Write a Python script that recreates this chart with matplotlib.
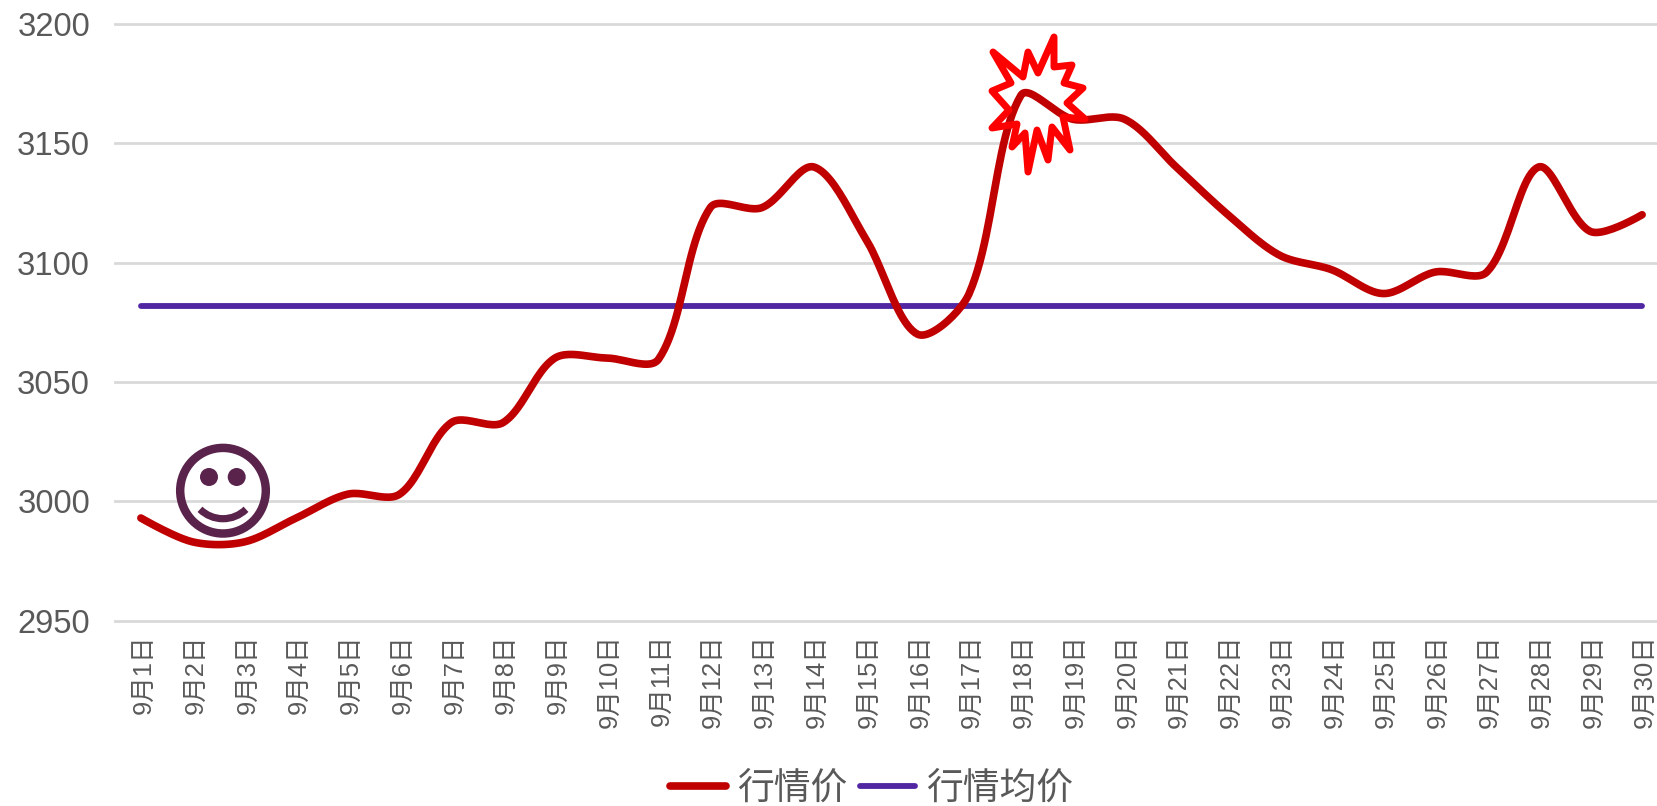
import numpy as np
import matplotlib
matplotlib.use("Agg")
import matplotlib.pyplot as plt
from matplotlib.patches import Circle, Arc, Polygon
from matplotlib.transforms import ScaledTranslation

plt.rcParams['font.family'] = ['Liberation Sans', 'Noto Sans CJK SC', 'DejaVu Sans']

days = [f"9月{d}日" for d in range(1, 31)]
price = [2993, 2983, 2983, 2993, 3003, 3003, 3033, 3033, 3060, 3060,
         3059.5, 3123, 3123, 3140, 3110, 3070, 3087, 3170, 3160, 3160,
         3140, 3120, 3103, 3097, 3087, 3096, 3096, 3140, 3113, 3120]
mean_price = [3081.8] * 30
yticks = [2950, 3000, 3050, 3100, 3150, 3200]
names = ["行情价", "行情均价"]

W, H = 1658, 806
GREY = "#595959"
LEFT, RIGHT, TOP, BOTTOM = 115, 1668, 23.7, 620.7


def smooth(y, kx, ky, tension=0.32, n=24):
    """Bezier smoothing of a line, with handles scaled by adjacent segment lengths
    (the way a spreadsheet's smoothed line behaves)."""
    y = np.asarray(y, float)
    P = np.c_[np.arange(len(y)) * kx, y * ky]
    c_out, c_in = P.copy(), P.copy()
    for i in range(1, len(P) - 1):
        d1 = np.linalg.norm(P[i] - P[i - 1])
        d2 = np.linalg.norm(P[i + 1] - P[i])
        v = P[i + 1] - P[i - 1]
        c_in[i] = P[i] - v * tension * d1 / (d1 + d2)
        c_out[i] = P[i] + v * tension * d2 / (d1 + d2)
    t = np.linspace(0, 1, n, endpoint=False)[:, None]
    parts = [(1 - t) ** 3 * P[i] + 3 * (1 - t) ** 2 * t * c_out[i]
             + 3 * (1 - t) * t ** 2 * c_in[i + 1] + t ** 3 * P[i + 1]
             for i in range(len(P) - 1)]
    C = np.vstack(parts + [P[-1:]])
    return C[:, 0] / kx, C[:, 1] / ky


fig = plt.figure(figsize=(W / 100, H / 100), dpi=100)
ax = fig.add_axes([LEFT / W, 1 - BOTTOM / H, (RIGHT - LEFT) / W, (BOTTOM - TOP) / H])
ax.set_xlim(-0.5, 29.5)
ax.set_ylim(2950, 3200)

ax.grid(axis='y', color="#D9D9D9", lw=2)
ax.set_axisbelow(True)
for s in ax.spines.values():
    s.set_visible(False)

sx, sy = smooth(price, (RIGHT - LEFT) / 30, (BOTTOM - TOP) / 250)
l1, = ax.plot(sx, sy, color="#C00000", lw=5.5, solid_capstyle='round', zorder=3, clip_on=False)
l2, = ax.plot(range(30), mean_price, color="#5026A3", lw=4.2, solid_capstyle='round', zorder=2)

ax.set_xticks(range(30))
ax.set_xticklabels(days, rotation=90, fontsize=18.4, color=GREY)
ax.set_yticks(yticks)
ax.set_yticklabels([str(v) for v in yticks], fontsize=23.6, color=GREY)
ax.tick_params(axis='both', length=0)
ax.tick_params(axis='x', pad=10)
ax.tick_params(axis='y', pad=18)
offset = ScaledTranslation(2 / 72, 0, fig.dpi_scale_trans)
for lbl in ax.get_xticklabels():
    lbl.set_transform(lbl.get_transform() + offset)
for gl in ax.get_ygridlines():
    gl.set_clip_on(False)

fig.legend([l1, l2], names, loc='center', bbox_to_anchor=(872 / W, 1 - 789.5 / H), ncol=2, frameon=False,
           fontsize=26.5, labelcolor=GREY, handlelength=1.5, handletextpad=0.3, columnspacing=0.36,
           borderpad=0)

# Overlay drawn in pixel coordinates for the two decorative shapes
ov = fig.add_axes([0, 0, 1, 1], facecolor='none')
ov.set_xlim(0, W)
ov.set_ylim(H, 0)
ov.axis('off')

PURPLE = "#5A234C"
ov.add_patch(Circle((223, 490.7), 42.8, fill=False, ec=PURPLE, lw=6.1))
ov.add_patch(Circle((209, 477), 9, fc=PURPLE, ec='none'))
ov.add_patch(Circle((236.7, 477), 9, fc=PURPLE, ec='none'))
ov.add_patch(Arc((223, 485.9), 65.6, 65.6, theta1=45.5, theta2=134.5, ec=PURPLE, lw=5.2, capstyle='butt'))

star = [(993, 52), (1023, 77), (1028, 52), (1038, 73), (1054, 37), (1054, 67),
        (1072, 65), (1064, 83), (1083, 88), (1067, 103), (1085, 119), (1063, 117),
        (1070, 150), (1052, 127), (1048, 160), (1037, 130), (1028, 172), (1025, 133),
        (1012, 147), (1017, 124), (992, 128), (1009, 110), (992, 91), (1011, 83)]
ov.add_patch(Polygon(star, closed=True, fill=False, ec="#FF0000", lw=5, joinstyle='round', zorder=5))

fig.savefig("out.png", dpi=100)
